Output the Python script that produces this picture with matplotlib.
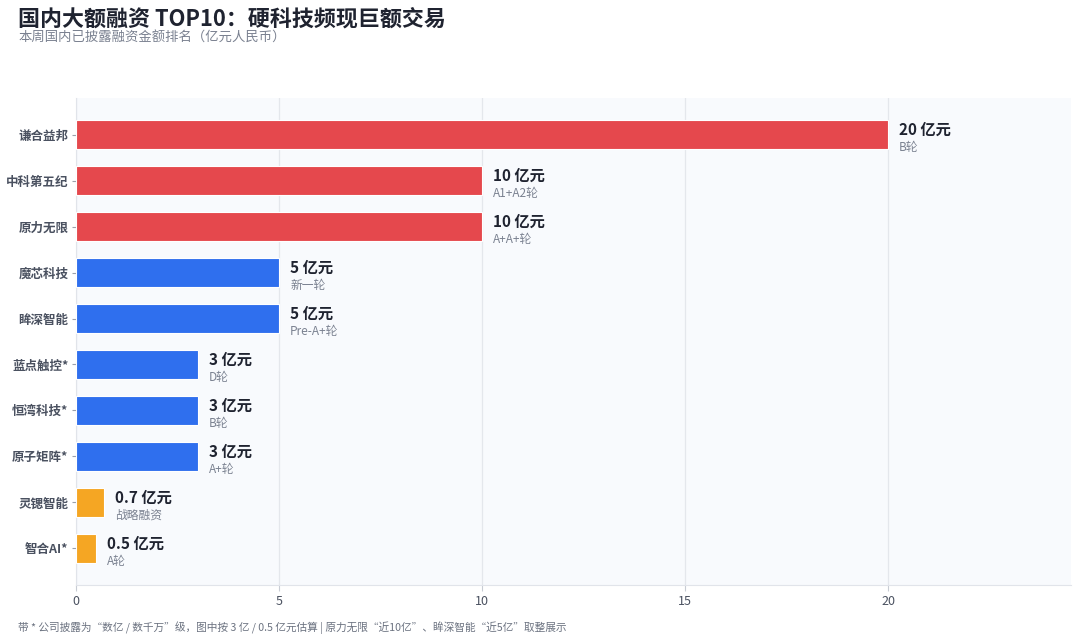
import matplotlib.pyplot as plt

plt.rcParams['font.family'] = ['Noto Sans CJK SC', 'DejaVu Sans']

companies = ["谦合益邦", "中科第五纪", "原力无限", "魔芯科技", "眸深智能",
             "蓝点触控*", "恒湾科技*", "原子矩阵*", "灵锶智能", "智合AI*"]
amounts = [20, 10, 10, 5, 5, 3, 3, 3, 0.7, 0.5]
amount_labels = ["20 亿元", "10 亿元", "10 亿元", "5 亿元", "5 亿元",
                 "3 亿元", "3 亿元", "3 亿元", "0.7 亿元", "0.5 亿元"]
rounds = ["B轮", "A1+A2轮", "A+A+轮", "新一轮", "Pre-A+轮",
          "D轮", "B轮", "A+轮", "战略融资", "A轮"]
tiers = ["big", "big", "big", "mid", "mid", "mid", "mid", "mid", "small", "small"]

tier_colors = {"big": "#E5484D", "mid": "#2F6FEE", "small": "#F5A623"}

fig = plt.figure(figsize=(10.8, 6.42), dpi=100)
ax = fig.add_axes([0.0704, 0.0888, 0.9213, 0.7586])
ax.set_facecolor("#F8FAFD")

ypos = list(range(len(companies)))
ax.barh(ypos, amounts, height=0.64,
        color=[tier_colors[t] for t in tiers],
        edgecolor="white", linewidth=0.8, zorder=3)

for y, v, lab, rnd in zip(ypos, amounts, amount_labels, rounds):
    ax.text(v + 0.27, y - 0.1, lab, fontsize=11, fontweight="bold",
            color="#1F2330", va="center", ha="left", zorder=4)
    ax.text(v + 0.27, y + 0.28, rnd, fontsize=8.5, color="#7A8190",
            va="center", ha="left", zorder=4)

ax.set_xlim(0, 24.5)
ax.set_ylim(9.8, -0.8)
ax.set_yticks(ypos)
ax.set_yticklabels(companies, fontsize=9, fontweight="bold", color="#4A5160")
ax.set_xticks([0, 5, 10, 15, 20])
ax.tick_params(axis="x", labelsize=9, labelcolor="#4A5160", color="#C8CCD4", length=4)
ax.tick_params(axis="y", color="#9AA0AA", length=3, pad=2.5)

ax.grid(axis="x", color="#E4E7EC", linewidth=0.9, zorder=0)
ax.grid(axis="y", visible=False)
for side in ["top", "right"]:
    ax.spines[side].set_visible(False)
for side in ["left", "bottom"]:
    ax.spines[side].set_color("#E1E4EA")

fig.text(0.017, 0.970, "国内大额融资 TOP10：硬科技频现巨额交易", fontsize=15.8,
         fontweight="bold", color="#1F2330", ha="left", va="center")
fig.text(0.017, 0.941, "本周国内已披露融资金额排名（亿元人民币）", fontsize=9.6,
         color="#7A8190", ha="left", va="center")
fig.text(0.017, 0.022,
         "带 * 公司披露为“数亿 / 数千万”级，图中按 3 亿 / 0.5 亿元估算 | 原力无限“近10亿”、眸深智能“近5亿”取整展示",
         fontsize=7.7, color="#6B7280", ha="left", va="center")

fig.savefig("out.png", dpi=100)
